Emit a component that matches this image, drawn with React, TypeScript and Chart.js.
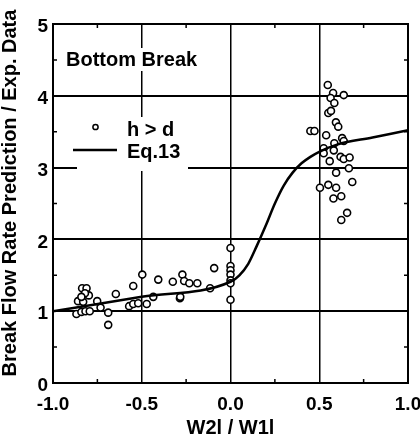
import React, { useEffect, useRef } from "react";
import { Chart, registerables } from "chart.js";

Chart.register(...registerables);

const FONT = "'Liberation Sans', Arial, Helvetica, sans-serif";

// Experimental data (h > d): W2l/W1l vs prediction / experiment
const expX = [
  -0.868, -0.859, -0.836, -0.811, -0.83, -0.798, -0.84, -0.817, -0.793, -0.82, -0.84,
  -0.751, -0.732, -0.689, -0.689, -0.646,
  -0.548, -0.497, -0.571, -0.548, -0.52, -0.472, -0.435, -0.407,
  -0.325, -0.271, -0.261, -0.232, -0.187, -0.285, -0.283, -0.115, -0.092,
  0.0, 0.0, 0.0, 0.0, 0.0, 0.0, 0.0,
  0.548, 0.578, 0.638, 0.564, 0.585, 0.551, 0.566, 0.594, 0.607, 0.45, 0.473,
  0.539, 0.629, 0.638, 0.585, 0.525, 0.582, 0.525, 0.62, 0.638, 0.671, 0.559,
  0.667, 0.595, 0.686, 0.504, 0.551, 0.595, 0.58, 0.624, 0.657, 0.624,
];
const expY = [
  0.96, 1.14, 1.32, 1.32, 1.13, 1.22, 0.99, 1.0, 1.0, 1.25, 1.2,
  1.14, 1.05, 0.98, 0.81, 1.24,
  1.35, 1.51, 1.07, 1.1, 1.11, 1.1, 1.2, 1.44,
  1.41, 1.51, 1.42, 1.39, 1.39, 1.18, 1.2, 1.32, 1.6,
  1.88, 1.63, 1.57, 1.51, 1.43, 1.39, 1.16,
  4.15, 4.04, 4.01, 3.97, 3.9, 3.76, 3.79, 3.63, 3.57, 3.51, 3.51,
  3.45, 3.41, 3.37, 3.34, 3.27, 3.24, 3.2, 3.15, 3.12, 3.14, 3.09,
  2.99, 2.93, 2.8, 2.72, 2.76, 2.72, 2.57, 2.6, 2.37, 2.27,
];

// Eq.13 curve
const eqX = [-1.0, -0.5, 0.0, 0.05, 0.1, 0.15, 0.2, 0.25, 0.3, 0.35, 0.4, 0.45, 0.5, 0.6, 0.8, 1.0];
const eqY = [1.0, 1.2, 1.41, 1.5, 1.66, 1.92, 2.2, 2.5, 2.75, 2.93, 3.06, 3.15, 3.22, 3.32, 3.42, 3.52];

const xTickValues = [-1.0, -0.5, 0.0, 0.5, 1.0];
const xTickLabels = ["-1.0", "-0.5", "0.0", "0.5", "1.0"];
const yTickValues = [0, 1, 2, 3, 4, 5];
const yTickLabels = ["0", "1", "2", "3", "4", "5"];
const xMinorTicks = [-0.75, -0.25, 0.25, 0.75];
const yMinorTicks = [0.5, 1.5, 2.5, 3.5, 4.5];

const yTitle = "Break Flow Rate Prediction / Exp. Data";
const xTitle = "W2l / W1l";
const panelLabel = "Bottom Break";
const legendPoints = "h > d";
const legendLine = "Eq.13";

const decoPlugin = {
  id: "deco",
  beforeDatasetsDraw(chart: any) {
    const ctx = chart.ctx;
    const { left, right, top, bottom } = chart.chartArea;
    const xs = chart.scales.x;
    const ys = chart.scales.y;
    ctx.save();
    // minor ticks
    ctx.strokeStyle = "#000";
    ctx.lineWidth = 1.5;
    ctx.beginPath();
    xMinorTicks.forEach((v) => {
      const px = xs.getPixelForValue(v);
      ctx.moveTo(px, bottom);
      ctx.lineTo(px, bottom - 4);
      ctx.moveTo(px, top);
      ctx.lineTo(px, top + 4);
    });
    yMinorTicks.forEach((v) => {
      const py = ys.getPixelForValue(v);
      ctx.moveTo(left, py);
      ctx.lineTo(left + 4, py);
      ctx.moveTo(right, py);
      ctx.lineTo(right - 4, py);
    });
    ctx.stroke();

    // white boxes behind texts
    ctx.fillStyle = "#fff";
    ctx.fillRect(63, 48, 137, 23);
    ctx.fillRect(77, 117, 111, 54);

    ctx.fillStyle = "#000";
    ctx.font = `bold 20px ${FONT}`;
    ctx.textBaseline = "middle";
    ctx.textAlign = "left";
    ctx.fillText(panelLabel, 66, 60);

    // legend
    ctx.fillText(legendPoints, 127, 130);
    ctx.fillText(legendLine, 127, 152);
    ctx.beginPath();
    ctx.arc(95.5, 127, 2.6, 0, Math.PI * 2);
    ctx.fillStyle = "#fff";
    ctx.fill();
    ctx.lineWidth = 1.5;
    ctx.stroke();
    ctx.beginPath();
    ctx.lineWidth = 2.5;
    ctx.moveTo(73, 150);
    ctx.lineTo(117, 150);
    ctx.stroke();

    // y title
    ctx.save();
    ctx.translate(10, 193);
    ctx.rotate(-Math.PI / 2);
    ctx.textAlign = "center";
    ctx.textBaseline = "middle";
    ctx.fillStyle = "#000";
    ctx.font = `bold 20px ${FONT}`;
    ctx.fillText(yTitle, 0, 0);
    ctx.restore();
    ctx.restore();
  },
  afterDraw(chart: any) {
    const ctx = chart.ctx;
    const { left, right, top, bottom } = chart.chartArea;
    ctx.save();
    ctx.strokeStyle = "#000";
    ctx.lineWidth = 2;
    ctx.strokeRect(left, top, right - left, bottom - top);
    ctx.restore();
  },
};

export default function App() {
  const ref = useRef<HTMLCanvasElement | null>(null);
  useEffect(() => {
    if (!ref.current) return;
    const tickFont = { family: FONT, size: 19, weight: "bold" as const };
    const chart = new Chart(ref.current, {
      type: "scatter",
      data: {
        datasets: [
          {
            label: legendLine,
            data: eqX.map((x, i) => ({ x, y: eqY[i] })),
            showLine: true,
            borderColor: "#000",
            borderWidth: 2.5,
            pointRadius: 0,
            cubicInterpolationMode: "monotone",
            fill: false,
          } as any,
          {
            label: legendPoints,
            data: expX.map((x, i) => ({ x, y: expY[i] })),
            pointRadius: 3.5,
            pointBorderWidth: 1.6,
            borderColor: "#000",
            backgroundColor: "#fff",
            pointStyle: "circle",
          },
        ],
      },
      options: {
        animation: false,
        responsive: false,
        events: [],
        layout: { padding: { left: 0, right: 12, top: 24, bottom: 0 } },
        plugins: { legend: { display: false }, tooltip: { enabled: false } },
        scales: {
          x: {
            type: "linear",
            min: -1,
            max: 1,
            afterBuildTicks: (s: any) => {
              s.ticks = xTickValues.map((v) => ({ value: v }));
            },
            afterFit: (s: any) => {
              s.height = 61;
              s.paddingLeft = 0;
              s.paddingRight = 0;
            },
            ticks: {
              callback: (_v: any, i: number) => xTickLabels[i],
              font: tickFont,
              color: "#000",
              padding: 10,
              maxRotation: 0,
              autoSkip: false,
            },
            grid: { color: "#000", lineWidth: 1.5, drawTicks: false },
            border: { display: false },
            title: {
              display: true,
              text: xTitle,
              color: "#000",
              font: { family: FONT, size: 20, weight: "bold", lineHeight: 1 },
              padding: { top: 0, bottom: 6 },
            },
          },
          y: {
            type: "linear",
            min: 0,
            max: 5,
            afterBuildTicks: (s: any) => {
              s.ticks = yTickValues.map((v) => ({ value: v }));
            },
            afterFit: (s: any) => {
              s.width = 53;
              s.paddingTop = 0;
              s.paddingBottom = 0;
            },
            ticks: {
              callback: (_v: any, i: number) => yTickLabels[i],
              font: tickFont,
              color: "#000",
              padding: 5,
              labelOffset: 3,
              autoSkip: false,
            },
            grid: { color: "#000", lineWidth: 2, drawTicks: false },
            border: { display: false },
          },
        },
      },
      plugins: [decoPlugin],
    });
    return () => chart.destroy();
  }, []);
  return (
    <div style={{ position: "fixed", left: 0, top: 0, width: 420, height: 444, background: "#fff" }}>
      <canvas ref={ref} width={420} height={444} style={{ display: "block" }} />
    </div>
  );
}
